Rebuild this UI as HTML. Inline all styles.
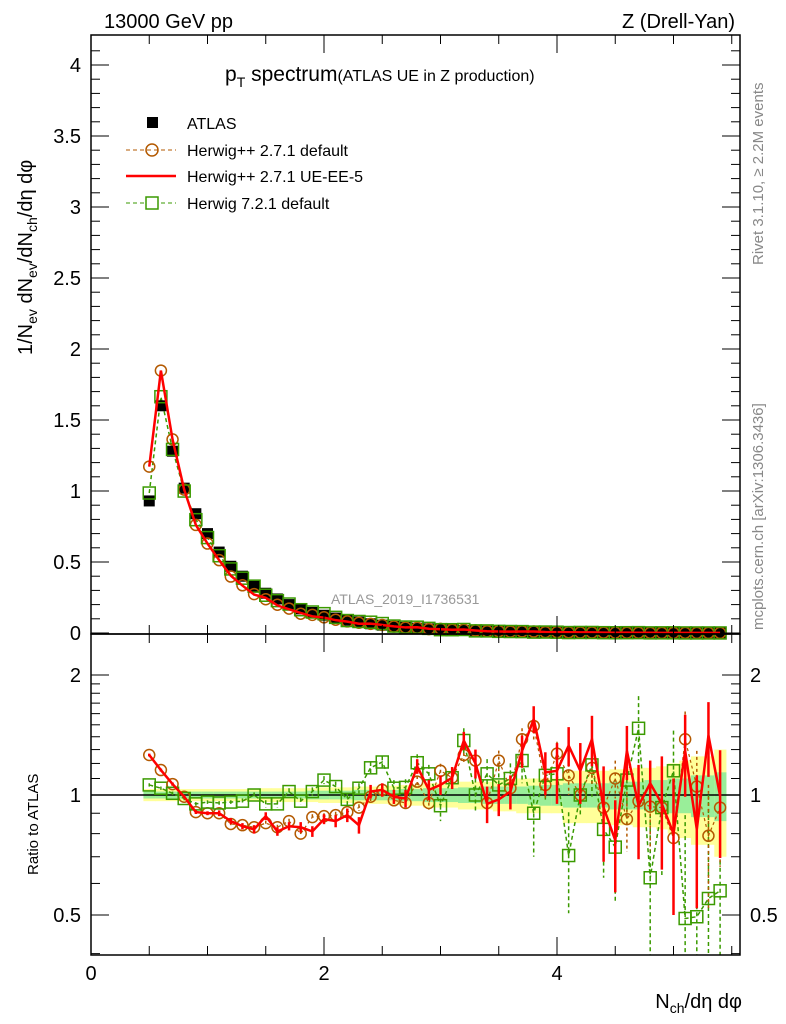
<!DOCTYPE html>
<html><head><meta charset="utf-8"><style>
body{margin:0;background:#fff;}
svg{display:block;font-family:"Liberation Sans",sans-serif;}
</style></head><body>
<svg id="c" width="786" height="1024" viewBox="0 0 786 1024">
<text x="104" y="28" font-size="20">13000 GeV pp</text>
<text x="735" y="28" font-size="20" text-anchor="end">Z (Drell-Yan)</text>
<text transform="translate(763,265) rotate(-90)" font-size="15" fill="#888">Rivet 3.1.10, ≥ 2.2M events</text>
<text transform="translate(763,630) rotate(-90)" font-size="15" fill="#888">mcplots.cern.ch [arXiv:1306.3436]</text>
<text x="225" y="81" font-size="21">p<tspan font-size="14" dy="6">T</tspan><tspan dy="-6"> spectrum</tspan><tspan font-size="16">(ATLAS UE in Z production)</tspan></text>
<text x="331" y="604" font-size="14" fill="#999">ATLAS_2019_I1736531</text>
<text transform="translate(32,355) rotate(-90)" font-size="20">1/N<tspan font-size="14" dy="5">ev</tspan><tspan dy="-5"> dN</tspan><tspan font-size="14" dy="5">ev</tspan><tspan dy="-5">/dN</tspan><tspan font-size="14" dy="5">ch</tspan><tspan dy="-5">/dη dφ</tspan></text>
<text transform="translate(38,875) rotate(-90)" font-size="15">Ratio to ATLAS</text>
<text x="742" y="1008" font-size="20" text-anchor="end">N<tspan font-size="14" dy="5">ch</tspan><tspan dy="-5">/dη dφ</tspan></text>
<g id="legend">
<rect x="147" y="117" width="11" height="11" fill="#000"/>
<text x="187" y="129" font-size="16">ATLAS</text>
<line x1="126" y1="150" x2="176" y2="150" stroke="#b35900" stroke-dasharray="4,3"/>
<circle cx="152" cy="150" r="6" fill="none" stroke="#b35900" stroke-width="1.5"/>
<text x="187" y="156" font-size="16">Herwig++ 2.7.1 default</text>
<line x1="126" y1="176" x2="176" y2="176" stroke="#f00" stroke-width="2.5"/>
<text x="187" y="182" font-size="16">Herwig++ 2.7.1 UE-EE-5</text>
<line x1="126" y1="203" x2="176" y2="203" stroke="#3a9a00" stroke-dasharray="4,3"/>
<rect x="146" y="197" width="12" height="12" fill="#fff" stroke="#3a9a00" stroke-width="1.5"/>
<text x="187" y="209" font-size="16">Herwig 7.2.1 default</text>
</g>
<g id="plots"></g>
</svg>
<script>
const xs=[0.5,0.6,0.7,0.8,0.9,1.0,1.1,1.2,1.3,1.4,1.5,1.6,1.7,1.8,1.9,2.0,2.1,2.2,2.3,2.4,2.5,2.6,2.7,2.8,2.9,3.0,3.1,3.2,3.3,3.4,3.5,3.6,3.7,3.8,3.9,4.0,4.1,4.2,4.3,4.4,4.5,4.6,4.7,4.8,4.9,5.0,5.1,5.2,5.3,5.4];
const atlas=[0.93,1.6,1.28,1.02,0.84,0.7,0.57,0.47,0.4,0.33,0.28,0.24,0.2,0.17,0.145,0.125,0.105,0.09,0.078,0.065,0.055,0.047,0.04,0.034,0.029,0.025,0.021,0.018,0.015,0.013,0.011,0.0095,0.008,0.007,0.006,0.005,0.0043,0.0037,0.0031,0.0027,0.0023,0.002,0.0017,0.0014,0.0012,0.001,0.0009,0.0008,0.0007,0.0006];
const ratioHpp=[1.26,1.155,1.065,0.99,0.906,0.9,0.9,0.846,0.84,0.83,0.85,0.83,0.86,0.8,0.88,0.885,0.89,0.906,0.93,0.99,1.03,0.97,0.955,1.08,0.955,1.15,1.105,1.26,1.22,0.955,1.22,1.04,1.38,1.49,1.06,1.27,1.12,1.0,1.17,0.93,1.1,0.87,0.965,0.935,0.93,0.78,1.38,1.05,0.79,0.93];
const ratioUE=[1.26,1.155,1.065,0.99,0.906,0.9,0.9,0.86,0.835,0.82,0.885,0.81,0.835,0.83,0.81,0.87,0.86,0.89,0.84,1.02,1.03,0.99,0.98,1.18,1.03,1.06,1.105,1.37,1.2,0.95,0.975,1.02,1.29,1.55,1.14,1.15,1.33,1.15,1.38,0.93,0.77,1.29,0.94,1.07,0.95,0.8,1.29,0.82,1.41,0.995];
const ratioH7=[1.06,1.04,1.01,0.98,0.95,0.96,0.955,0.96,0.965,1.0,0.95,0.95,1.02,0.965,1.02,1.09,1.05,0.975,1.04,1.17,1.21,1.04,1.045,1.205,1.13,0.94,1.105,1.37,1.0,1.13,1.06,1.1,1.22,0.9,1.12,1.13,0.705,1.0,1.19,0.82,0.74,1.09,1.47,0.62,0.93,1.15,0.49,0.495,0.55,0.575];
const errUE=[0.01,0.01,0.01,0.01,0.01,0.01,0.015,0.015,0.015,0.02,0.02,0.02,0.02,0.025,0.025,0.025,0.03,0.035,0.04,0.04,0.04,0.04,0.05,0.05,0.06,0.06,0.07,0.07,0.1,0.1,0.09,0.1,0.12,0.12,0.14,0.2,0.15,0.2,0.2,0.25,0.2,0.2,0.25,0.15,0.3,0.3,0.3,0.3,0.3,0.3];
const errH7=[0.01,0.01,0.01,0.01,0.01,0.01,0.01,0.01,0.015,0.015,0.02,0.02,0.02,0.02,0.025,0.025,0.03,0.03,0.03,0.04,0.04,0.05,0.05,0.06,0.06,0.08,0.07,0.1,0.1,0.1,0.12,0.1,0.15,0.2,0.15,0.15,0.2,0.12,0.2,0.2,0.2,0.25,0.3,0.35,0.3,0.3,0.4,0.4,0.45,0.45];
const bandStat=[0.02,0.02,0.02,0.02,0.02,0.02,0.02,0.02,0.02,0.02,0.02,0.02,0.02,0.02,0.025,0.025,0.025,0.025,0.03,0.03,0.03,0.03,0.035,0.035,0.04,0.04,0.04,0.045,0.045,0.05,0.05,0.05,0.05,0.055,0.06,0.06,0.07,0.07,0.07,0.07,0.08,0.08,0.08,0.09,0.09,0.1,0.1,0.12,0.12,0.14];
const bandTot=[0.035,0.035,0.035,0.035,0.035,0.035,0.035,0.035,0.035,0.035,0.04,0.04,0.04,0.04,0.04,0.045,0.045,0.045,0.05,0.05,0.05,0.055,0.06,0.06,0.07,0.07,0.07,0.08,0.08,0.08,0.09,0.09,0.1,0.1,0.1,0.1,0.15,0.15,0.15,0.15,0.16,0.16,0.17,0.17,0.18,0.2,0.22,0.25,0.25,0.3];
const mainTicks=[0,0.5,1,1.5,2,2.5,3,3.5,4];
const mainTickLabels=["0","0.5","1","1.5","2","2.5","3","3.5","4"];
const xTicks=[0,2,4];
const ratioTicks=[0.5,1,2];
const ratioTickLabels=["0.5","1","2"];

const NS="http://www.w3.org/2000/svg";
const L=91,R=740,T=35,MB=634,RT=634,RB=955;
const X=v=>L+116.5*v;
const Y=v=>633-142*v;
const YR=r=>795-120*Math.log2(r);
const g=document.getElementById('plots');
function mk(tag,attrs,parent){const e=document.createElementNS(NS,tag);for(const k in attrs)e.setAttribute(k,attrs[k]);(parent||g).appendChild(e);return e;}

const clip=mk('clipPath',{id:'rc'});mk('rect',{x:L,y:RT,width:R-L,height:RB-RT},clip);
const bandG=mk('g',{'clip-path':'url(#rc)'});


xs.forEach((x,i)=>{
  const a=X(x-0.05),w=X(x+0.05)-a+0.5;
  const r1=mk('rect',{x:a,y:YR(1+bandTot[i]),width:w,height:YR(1-bandTot[i])-YR(1+bandTot[i]),fill:'#ffff99'},bandG);
  
  
  const r2=mk('rect',{x:a,y:YR(1+bandStat[i]),width:w,height:YR(1-bandStat[i])-YR(1+bandStat[i]),fill:'#99ee99'},bandG);
  
  
});
const one=mk('line',{x1:L,x2:R,y1:YR(1),y2:YR(1),stroke:'#000','stroke-width':1.5});



const mH=atlas.map((v,i)=>v*ratioHpp[i]), mU=atlas.map((v,i)=>v*ratioUE[i]), m7=atlas.map((v,i)=>v*ratioH7[i]);
function poly(vals,fy,attrs,name,parent){const p=mk('polyline',Object.assign({points:xs.map((x,i)=>X(x)+','+fy(vals[i])).join(' '),fill:'none'},attrs),parent);return p;}
const rg=mk('g',{'clip-path':'url(#rc)'});
xs.forEach((x,i)=>{
  const e1=mk('line',{x1:X(x),x2:X(x),y1:YR(ratioH7[i]+errH7[i]),y2:YR(Math.max(0.3,ratioH7[i]-errH7[i])),stroke:'#3a9a00','stroke-width':1.5,'stroke-dasharray':'4,3'},rg);
  
  
  const e2=mk('line',{x1:X(x),x2:X(x),y1:YR(ratioHpp[i]+errH7[i]*0.6),y2:YR(ratioHpp[i]-errH7[i]*0.6),stroke:'#b35900','stroke-width':1.5,'stroke-dasharray':'3,3'},rg);
  
  
});
poly(m7,Y,{stroke:'#3a9a00','stroke-width':1.5,'stroke-dasharray':'4,3'},'herwig7-main-line');
poly(mH,Y,{stroke:'#b35900','stroke-width':1.2,'stroke-dasharray':'3,3'},'herwigpp-main-line');
poly(ratioH7,YR,{stroke:'#3a9a00','stroke-width':1.5,'stroke-dasharray':'4,3'},'herwig7-ratio-line',rg);
poly(ratioHpp,YR,{stroke:'#b35900','stroke-width':1.2,'stroke-dasharray':'3,3'},'herwigpp-ratio-line',rg);
xs.forEach((x,i)=>{
  const a=mk('rect',{x:X(x)-5.5,y:Y(atlas[i])-5.5,width:11,height:11,fill:'#000'});
  
  
  const c=mk('circle',{cx:X(x),cy:Y(mH[i]),r:5.5,fill:'none',stroke:'#b35900','stroke-width':1.5});
  
  
  const s=mk('rect',{x:X(x)-6,y:Y(m7[i])-6,width:12,height:12,fill:'none',stroke:'#3a9a00','stroke-width':1.5});
  
  
  const c2=mk('circle',{cx:X(x),cy:YR(ratioHpp[i]),r:5.5,fill:'none',stroke:'#b35900','stroke-width':1.5},rg);
  
  
  const s2=mk('rect',{x:X(x)-6,y:YR(ratioH7[i])-6,width:12,height:12,fill:'#fff','fill-opacity':0.01,stroke:'#3a9a00','stroke-width':1.5},rg);
  
  
  const eu=mk('line',{x1:X(x),x2:X(x),y1:YR(ratioUE[i]+errUE[i]),y2:YR(ratioUE[i]-errUE[i]),stroke:'#f00','stroke-width':2.5},rg);
  
  
});
poly(mU,Y,{stroke:'#f00','stroke-width':2.5},'ueee5-main-line');
poly(ratioUE,YR,{stroke:'#f00','stroke-width':2.5},'ueee5-ratio-line',rg);

const f1=mk('rect',{x:L,y:T,width:R-L,height:MB-T,fill:'none',stroke:'#000','stroke-width':1.5});


const f2=mk('rect',{x:L,y:RT,width:R-L,height:RB-RT,fill:'none',stroke:'#000','stroke-width':1.5});


for(let v=0;v<=4.2;v+=0.1){const y=Y(v),maj=Math.abs(v*2-Math.round(v*2))<1e-6;
  mk('line',{x1:L,x2:L+(maj?18:9),y1:y,y2:y,stroke:'#000'});mk('line',{x1:R,x2:R-(maj?18:9),y1:y,y2:y,stroke:'#000'});}
mainTicks.forEach((v,i)=>{const t=mk('text',{x:L-10,y:Y(v)+7,'font-size':20,'text-anchor':'end'});t.textContent=mainTickLabels[i];});
for(let v=0;v<=5.6;v+=0.5){const x=X(v),maj=Math.abs(v/2-Math.round(v/2))<1e-6;
  [[MB,-1],[RT,1],[RB,-1],[T,1]].forEach(([y0,d])=>mk('line',{x1:x,x2:x,y1:y0,y2:y0+d*(maj?18:9),stroke:'#000'}));}
xTicks.forEach(v=>{const t=mk('text',{x:X(v),y:980,'font-size':20,'text-anchor':'middle'});t.textContent=String(v);});
[0.4,0.5,0.6,0.7,0.8,0.9,1,1.1,1.2,1.3,1.4,1.5,1.6,1.7,1.8,1.9,2].forEach(r=>{const y=YR(r),maj=[0.5,1,2].includes(r);
  mk('line',{x1:L,x2:L+(maj?18:9),y1:y,y2:y,stroke:'#000'});mk('line',{x1:R,x2:R-(maj?18:9),y1:y,y2:y,stroke:'#000'});});
ratioTicks.forEach((r,i)=>{
  const t=mk('text',{x:L-10,y:YR(r)+7,'font-size':20,'text-anchor':'end'});t.textContent=ratioTickLabels[i];
  const t2=mk('text',{x:R+10,y:YR(r)+7,'font-size':20});t2.textContent=ratioTickLabels[i];
});
</script>
</body></html>
